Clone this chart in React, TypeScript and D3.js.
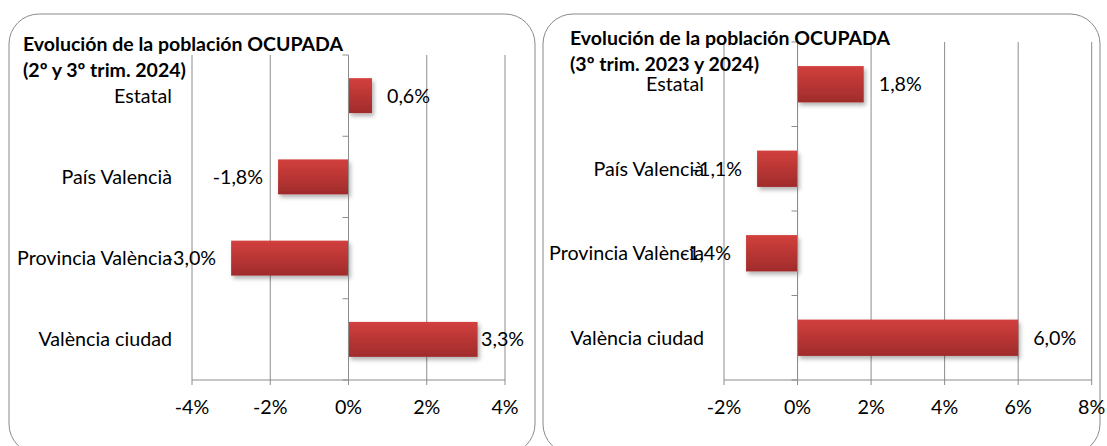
import React from 'react';
import * as d3 from 'd3';

const categories = ['Estatal', 'País Valencià', 'Provincia València', 'València ciudad'];
const quarterChange = [0.6, -1.8, -3.0, 3.3];
const yearChange = [1.8, -1.1, -1.4, 6.0];
const quarterTicks = [-4, -2, 0, 2, 4];
const yearTicks = [-2, 0, 2, 4, 6, 8];
const quarterTitle = ['Evolución de la población OCUPADA', '(2º y 3º trim. 2024)'];
const yearTitle = ['Evolución de la población OCUPADA', '(3º trim. 2023 y 2024)'];

const FONT = 'Lato, "Open Sans", sans-serif';
const GRID = '#8c8c8c';
const FS = 19.7;

const fmt = (v: number) => v.toFixed(1).replace('.', ',') + '%';

function Panel({ values, ticks, title, box, plot, titlePos }: any) {
  const x = d3.scaleLinear().domain([ticks[0], ticks[ticks.length - 1]]).range([plot.left, plot.right]);
  const y = d3
    .scaleBand()
    .domain(categories)
    .range([plot.top, plot.bottom])
    .paddingInner(0.57)
    .paddingOuter(0.285);
  const step = y.step();
  const x0 = x(0);

  return (
    <g>
      <rect x={box.x} y={box.y} width={box.w} height={box.h} rx={30} fill="#fff" stroke="#8a8a8a" strokeWidth={1} />
      {ticks.map((t: number) => (
        <g key={t}>
          <line x1={x(t)} x2={x(t)} y1={plot.top} y2={plot.bottom + 5} stroke={GRID} />
          <text x={x(t)} y={plot.bottom + 34} textAnchor="middle" fontSize={FS}>
            {`${t}%`}
          </text>
        </g>
      ))}
      <line x1={plot.left} x2={plot.right} y1={plot.bottom} y2={plot.bottom} stroke={GRID} />
      {d3.range(categories.length + 1).map((i) => (
        <line key={i} x1={x0 - 6} x2={x0} y1={plot.top + i * step} y2={plot.top + i * step} stroke={GRID} />
      ))}
      {categories.map((c, i) => {
        const v = values[i];
        const yy = y(c)!;
        const bx = Math.min(x(v), x0);
        const bw = Math.abs(x(v) - x0);
        const cy = yy + y.bandwidth() / 2;
        let lx = v >= 0 ? x(v) + 15 : x(v) - 15;
        const anchor = v >= 0 ? 'start' : 'end';
        if (v >= 0 && lx + 44 > box.x + box.w - 10) lx = box.x + box.w - 10 - 44;
        return (
          <g key={c}>
            <rect x={bx} y={yy} width={bw} height={y.bandwidth()} fill="url(#barGrad)" filter="url(#barShadow)" />
            <text x={plot.left - 20} y={cy + 7} textAnchor="end" fontSize={FS}>
              {c}
            </text>
            <text x={lx} y={cy + 7} textAnchor={anchor} fontSize={FS}>
              {fmt(v)}
            </text>
          </g>
        );
      })}
      <line x1={x0} x2={x0} y1={plot.top} y2={plot.bottom} stroke={GRID} />
      {title.map((t: string, i: number) => (
        <text key={i} x={titlePos.x} y={titlePos.y + i * 26} fontSize={19.5} fontWeight="bold">
          {t}
        </text>
      ))}
    </g>
  );
}

export default function App() {
  return (
    <svg
      width={1107}
      height={446}
      style={{ position: 'absolute', left: 0, top: 0, fontFamily: FONT }}
      fill="#000"
    >
      <defs>
        <linearGradient id="barGrad" x1="0" y1="0" x2="0" y2="1">
          <stop offset="0" stopColor="#d2403d" />
          <stop offset="1" stopColor="#a02b2b" />
        </linearGradient>
        <filter id="barShadow" x="-10%" y="-20%" width="130%" height="160%">
          <feDropShadow dx={2} dy={3} stdDeviation={2} floodColor="#000" floodOpacity={0.3} />
        </filter>
      </defs>
      <rect width={1107} height={446} fill="#fff" />
      <Panel
        values={quarterChange}
        ticks={quarterTicks}
        title={quarterTitle}
        box={{ x: 9, y: 14, w: 526, h: 440 }}
        plot={{ left: 192, right: 505, top: 55, bottom: 380 }}
        titlePos={{ x: 23, y: 51 }}
      />
      <Panel
        values={yearChange}
        ticks={yearTicks}
        title={yearTitle}
        box={{ x: 543, y: 14, w: 557, h: 440 }}
        plot={{ left: 724, right: 1091.7, top: 42, bottom: 380 }}
        titlePos={{ x: 570, y: 44.5 }}
      />
    </svg>
  );
}
